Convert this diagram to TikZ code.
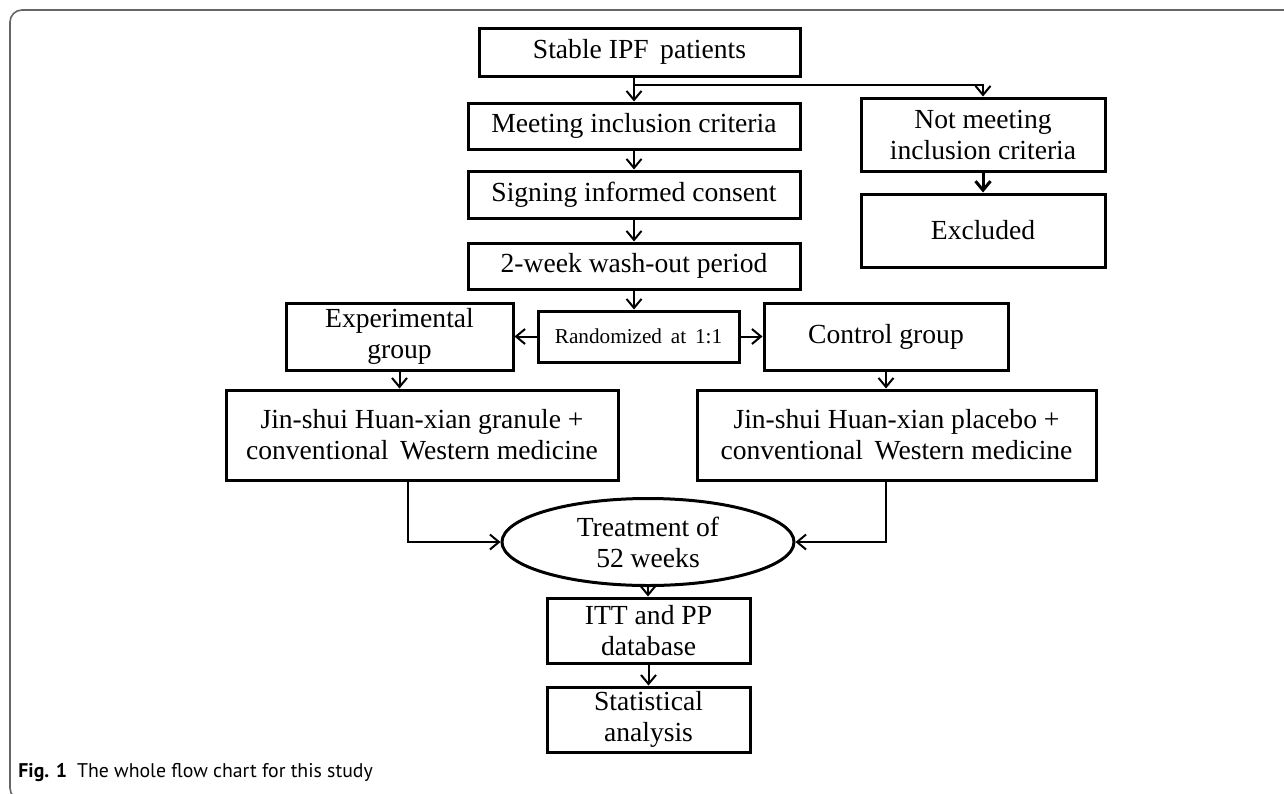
\documentclass[tikz,border=0pt]{standalone}
\usepackage{fontspec}
\setmainfont{Liberation Serif}
\newfontfamily\capfont{PT Sans}
\usetikzlibrary{arrows.meta,shapes.geometric,calc}
\tikzset{
  boxnode/.style={draw, line width=1.5pt, inner sep=0pt, align=center,
    font=\fontsize{13.8pt}{15.5pt}\selectfont},
  ellnode/.style={draw, ellipse, line width=1.5pt, inner sep=0pt, align=center,
    font=\fontsize{13.8pt}{15.5pt}\selectfont},
  arr/.style={line width=1pt, -{Straight Barb[length=4.5pt,width=7.5pt]}},
}
\begin{document}
\begin{tikzpicture}[x=0.5pt,y=-0.5pt]
\useasboundingbox (0,0) rectangle (1284,793);
\draw[gray!80!black, line width=0.8pt, rounded corners=6pt] (10,10) rectangle (1310,800);

\node[boxnode, minimum width=160.5pt, minimum height=24pt] (stable) at (639.5,52) {Stable IPF \,patients};
\node[boxnode, minimum width=166pt, minimum height=23pt] (meet) at (634,126) {Meeting inclusion criteria};
\node[boxnode, minimum width=166pt, minimum height=23.5pt] (sign) at (634,194.5) {Signing informed consent};
\node[boxnode, minimum width=166pt, minimum height=23pt] (wash) at (634,266) {2-week wash-out period};
\node[boxnode, minimum width=122pt, minimum height=36.5pt] (notmeet) at (983,134.5) {Not meeting\\inclusion criteria};
\node[boxnode, minimum width=122pt, minimum height=36.5pt] (excl) at (983,230.5) {Excluded};
\node[boxnode, minimum width=100.5pt, minimum height=25.5pt, font=\fontsize{10.6pt}{12pt}\selectfont] (rand) at (638.5,336.5) {Randomized \,at \,1:1};
\node[boxnode, minimum width=113.5pt, minimum height=33.5pt] (exp) at (399.5,336.5) {Experimental\\group};
\node[boxnode, minimum width=122pt, minimum height=33.5pt] (ctrl) at (886,336.5) {Control group};
\node[boxnode, minimum width=196pt, minimum height=45pt] (ltr) at (422,435) {Jin-shui Huan-xian granule +\\conventional \,Western medicine};
\node[boxnode, minimum width=199.5pt, minimum height=45pt] (rtr) at (896.5,435) {Jin-shui Huan-xian placebo +\\conventional \,Western medicine};
\node[ellnode, minimum width=146pt, minimum height=43.5pt] (ell) at (648,542) {Treatment of\\52 weeks};
\node[boxnode, minimum width=101.5pt, minimum height=32.5pt] (itt) at (648.5,630.5) {ITT and PP\\database};
\node[boxnode, minimum width=101.5pt, minimum height=32.5pt] (stat) at (648.5,719.5) {Statistical\\analysis};

\coordinate (br) at (634,85);
\coordinate (lc) at (408,480);
\coordinate (rc) at (886,480);

\draw[arr] (meet.north |- stable.south) -- (meet.north);
\draw[arr] (br) -| (notmeet.north);
\draw[arr] (meet.south) -- (sign.north);
\draw[arr] (sign.south) -- (wash.north);
\draw[arr, line width=1.5pt] (notmeet.south) -- (excl.north);
\draw[arr] (wash.south) -- (wash.south |- rand.north);
\draw[arr] (rand.west) -- (exp.east);
\draw[arr] (rand.east) -- (ctrl.east -| ctrl.west);
\draw[arr] (exp.south) -- (exp.south |- ltr.north);
\draw[arr] (ctrl.south) -- (ctrl.south |- rtr.north);
\draw[arr] (lc) |- (ell.west);
\draw[arr] (rc) |- (ell.east);
\draw[arr] (ell.south) -- (ell.south |- itt.north);
\draw[arr] (itt.south) -- (stat.north);

\node[anchor=base west, inner sep=0pt, font=\capfont\fontsize{9.9pt}{11pt}\selectfont] (cap) at (18,777) {\textbf{Fig. 1}\enspace The whole flow chart for this study};
\end{tikzpicture}
\end{document}
